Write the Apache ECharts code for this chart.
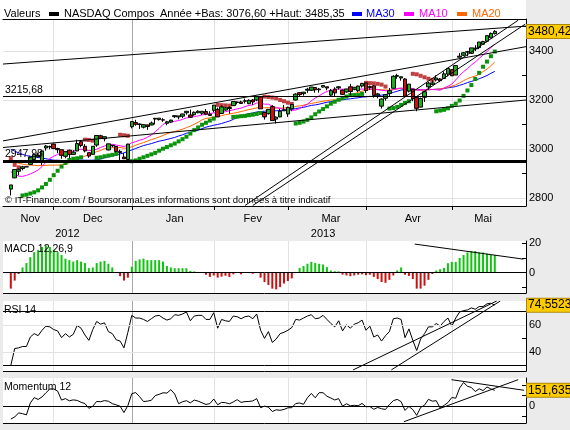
<!DOCTYPE html>
<html>
<head>
<meta charset="utf-8">
<script src="https://cdn.jsdelivr.net/npm/echarts@6/dist/echarts.min.js"></script>
<style>
html, body { margin: 0; padding: 0; background: #ebebeb; }
#chart { width: 570px; height: 430px; }
</style>
</head>
<body>
<div id="chart"></div>
<script>
// trading days on the x axis (index 0 = 13 nov 2012), data starts at index 2
var nCats = 135;
var first = 2;
var monthStart = [13, 33, 54, 73, 93, 115];
var monthLabelAt = [7, 23, 44, 64, 84, 105, 123];
var monthNames = ['Nov', 'Dec', 'Jan', 'Fev', 'Mar', 'Avr', 'Mai'];
var yearLabelAt = [16.5, 82];
var yearNames = ['2012', '2013'];

var open = [2836,2882,2909,2920,2927,2937,2957,2975,2950,3004,3008,
  3020,3002,2997,2970,2995,2978,2992,3030,3011,2985,2978,3016,3054,3042,2996,3015,3010,2990,2967,2957,
  3091,3108,3100,3089,3098,3098,3125,3120,3119,3105,3110,3132,3131,3134,3148,3139,3140,3148,3146,3153,3137,
  3158,3162,3145,3159,3169,3177,3190,3192,3195,3185,3200,3200,3213,3149,3144,3173,3122,3131,3156,
  3143,3164,3200,3230,3226,3240,3240,3251,3242,3253,3254,3220,3245,3250,3240,3233,3254,3244,3238,3257,
  3270,3251,3258,3220,3175,3207,3227,3248,3297,3290,3286,3236,3244,3210,3171,3211,3254,3264,3282,3286,3288,3306,
  3324,3302,3375,3383,3396,3391,3412,3414,3428,3440,3454,3471];
var high = [2853,2917,2920,2931,2927,2967,2977,2985,2993,3016,3014,
  3022,3005,2997,2990,2997,2995,3038,3036,3020,2985,3011,3055,3058,3050,3021,3016,3013,2997,2983,3021,
  3113,3119,3104,3102,3100,3112,3127,3126,3126,3115,3119,3138,3135,3144,3154,3161,3153,3158,3155,3163,3154,
  3180,3169,3178,3172,3174,3196,3194,3197,3206,3203,3204,3214,3214,3151,3162,3179,3133,3164,3180,
  3173,3183,3228,3231,3233,3250,3253,3251,3249,3259,3254,3245,3252,3257,3243,3245,3266,3253,3259,3270,
  3270,3259,3261,3229,3206,3222,3249,3301,3307,3296,3290,3265,3245,3214,3210,3237,3274,3280,3301,3290,3317,3329,
  3326,3342,3392,3396,3401,3413,3424,3437,3442,3465,3476,3485.35];
var low = [2810,2881,2892,2913,2927,2936,2951,2964,2934,2993,2999,
  2999,2983,2960,2962,2962,2976,2991,3007,2986,2964,2977,3009,3043,3031,2994,3007,2985,2950,2960,2950,
  3084,3095,3082,3084,3078,3097,3100,3116,3111,3097,3106,3127,3121,3126,3140,3127,3136,3146,3139,3138,3137,
  3150,3131,3145,3157,3144,3176,3182,3184,3186,3183,3180,3195,3164,3120,3141,3116,3104,3130,3156,
  3131,3154,3199,3215,3218,3229,3237,3230,3230,3250,3240,3214,3213,3243,3220,3230,3220,3240,3233,3251,
  3229,3241,3210,3207,3165,3197,3215,3248,3287,3279,3216,3231,3195,3154,3170,3192,3241,3261,3276,3273,3287,3297,
  3298,3302,3374,3380,3379,3388,3400,3408,3426,3435,3453,3468];
var close = [2853,2916,2917,2927,2927,2967,2977,2968,2992,3012,3010,
  3002,2997,2974,2989,2978,2987,3022,3014,2992,2971,3011,3055,3044,3050,3021,3013,2990,2986,2960,3020,
  3112,3101,3102,3099,3092,3106,3122,3126,3118,3111,3118,3136,3135,3143,3154,3130,3150,3154,3154,3142,3142,
  3179,3131,3172,3168,3165,3194,3192,3186,3197,3199,3192,3214,3164,3131,3162,3116,3130,3154,3160,
  3170,3182,3224,3222,3232,3244,3253,3242,3245,3259,3249,3238,3229,3254,3223,3245,3235,3252,3257,3268,
  3239,3255,3219,3225,3204,3222,3238,3297,3300,3295,3216,3265,3205,3166,3206,3234,3269,3270,3290,3279,3307,3329,
  3299,3341,3379,3393,3397,3413,3409,3437,3439,3463,3472,3480.42];

var ma10 = [2907,2899,2889,2888,2892,2898,2905,2914,2928,2946,2961,
  2970,2978,2983,2989,2990,2991,2996,2999,2997,2993,2994,2999,3006,3012,3017,3019,3016,3013,3010,3015,
  3025,3030,3036,3040,3048,3057,3070,3084,3100,3109,3110,3113,3116,3121,3127,3129,3132,3135,3139,3142,3144,
  3148,3148,3151,3152,3156,3160,3164,3167,3173,3178,3180,3188,3187,3183,3183,3175,3169,3166,3162,
  3159,3158,3159,3165,3175,3183,3197,3208,3217,3227,3235,3241,3241,3245,3244,3244,3242,3243,3244,3245,
  3244,3246,3245,3242,3240,3238,3238,3242,3247,3249,3247,3248,3247,3241,3241,3242,3245,3243,3242,3240,3249,3256,
  3265,3282,3300,3316,3328,3343,3355,3370,3384,3397,3414,3428];
var ma20 = [2954,2947,2942,2938,2935,2934,2933,2932,2933,2933,2934,
  2934,2934,2935,2940,2944,2948,2955,2963,2971,2977,2982,2989,2994,3001,3003,3005,3006,3006,3003,3004,
  3009,3015,3021,3026,3032,3038,3043,3049,3055,3062,3067,3071,3076,3081,3087,3093,3101,3109,3119,3125,3127,
  3131,3132,3136,3140,3143,3146,3149,3153,3157,3161,3164,3168,3169,3168,3169,3168,3167,3167,3167,
  3169,3169,3174,3176,3179,3183,3186,3189,3192,3195,3197,3200,3200,3205,3209,3214,3220,3226,3231,3236,
  3240,3243,3243,3243,3242,3241,3240,3243,3245,3247,3246,3247,3246,3241,3240,3240,3242,3243,3244,3245,3248,3252,
  3256,3262,3270,3279,3287,3293,3298,3305,3316,3326,3340,3355];
var ma30 = [2999,2991,2984,2978,2973,2970,2968,2965,2963,2960,2957,
  2954,2954,2953,2953,2953,2953,2954,2955,2954,2954,2954,2956,2959,2964,2968,2972,2975,2980,2984,2990,
  2996,3002,3008,3014,3018,3022,3027,3032,3035,3039,3043,3047,3053,3058,3064,3068,3073,3077,3083,3089,3093,
  3097,3100,3104,3109,3114,3121,3128,3135,3141,3144,3147,3151,3153,3154,3156,3156,3156,3157,3159,
  3161,3162,3165,3168,3170,3174,3178,3180,3183,3187,3191,3193,3196,3199,3201,3203,3205,3207,3209,3212,
  3213,3215,3215,3217,3220,3222,3226,3231,3236,3241,3242,3245,3244,3242,3242,3241,3242,3243,3244,3245,3247,3250,
  3252,3255,3260,3265,3271,3276,3281,3287,3293,3300,3309,3317];

// parabolic SAR: value and side (1 = below price / green, 0 = above / red)
var sar = [2962,2935,2925,2810,2813,2818,2823,2831,2843,2857,2874,
  2893,2911,2928,2943,2955,2960,2962,2966,3038,3037,3034,2964,2966,2970,2973,2976,2980,3058,3056,3054,
  2950,2953,2960,2966,2972,2978,2984,2993,3001,3008,3015,3022,3031,3040,3050,3063,3077,3088,3099,3107,3116,
  3124,3180,3179,3178,3177,3131,3132,3134,3135,3138,3140,3143,3147,3214,3212,3210,3207,3200,3195,
  3189,3184,3104,3107,3112,3119,3129,3142,3153,3163,3174,3185,3193,3201,3208,3214,3220,3220,3220,3225,
  3270,3269,3268,3266,3263,3255,3165,3167,3172,3180,3188,3195,3307,3305,3299,3293,3287,3282,3154,3157,3160,3166,
  3176,3185,3198,3217,3239,3261,3286,3311,3336,3357,3379,3398];
var sarUp = [0,0,0,1,1,1,1,1,1,1,1,
  1,1,1,1,1,1,1,1,0,0,0,1,1,1,1,1,1,0,0,0,
  1,1,1,1,1,1,1,1,1,1,1,1,1,1,1,1,1,1,1,1,1,
  1,0,0,0,0,1,1,1,1,1,1,1,1,0,0,0,0,0,0,
  0,0,1,1,1,1,1,1,1,1,1,1,1,1,1,1,1,1,1,1,
  0,0,0,0,0,0,1,1,1,1,1,1,0,0,0,0,0,0,1,1,1,1,
  1,1,1,1,1,1,1,1,1,1,1,1];

var macd = [-11,-5.5,-1,3.5,6.5,10.5,14,15.5,17.5,18.5,17.5,
  15.5,14,12,9.5,8.5,7.5,8.5,7.5,6.5,3,3.5,6.5,7.5,8,6,3.5,0.3,-2.5,-5.5,-3.5,
  4,8,9,9.5,8.5,8.5,8.5,8.5,7.5,4.5,3.5,3,3,3,3,1.2,0.8,0.2,0.2,-1.5,-3,
  -2,-3.5,-2.8,-2.2,-3,-1.2,-0.3,-1.2,-0.3,-0.3,-0.8,-0.3,-3.5,-6.5,-8.5,-11,-11.5,-10,-7.5,
  -5.8,-4,-0.3,3.2,4.5,6,7.3,6.5,6,5.5,3.7,1.4,0.9,0.9,-1.4,-2,-2.5,-2,-1.5,-1.2,
  -1.8,-1.5,-3,-4.5,-6.5,-7,-5,-2,1.5,3.5,-1.5,-2.3,-4.5,-11,-11,-9,-5,-1,1.4,2.3,3.2,6.4,
  7.3,7.3,10,12,13.8,14.7,14.7,13.8,13.8,12.9,12,12];

var rsi = [30,42.5,43,44,44,51,53.5,52,56,59,58.5,
  56.5,55.5,50.5,53.5,51,53,59.5,57.5,52.5,48.5,56.5,62.5,60.5,61.5,55,53.5,49,48,43,54.5,
  67,65,65,64,62.5,64.5,66.5,67,65,63.5,64.5,67.5,67,68,69.5,63,66.5,67,67,64,64,
  69,57.5,64,63,62.5,66.5,66,64.5,66,66.5,64.5,68,56,50,55,47,49.5,53.5,54.5,
  56,58,64,63.5,65,66.5,67.5,64.5,65,67,64,61,58.5,63,55.5,60,57.5,60.5,61.5,63.5,
  56,59,51,52.5,48,52,55,64.5,65,64,50.5,57,48.5,41,49.5,53.5,58.5,58.5,61,59,62.5,65,
  59,65,69.5,70.5,71,72.5,71.5,73.5,73.5,75.5,76,74.5523];

var momentum = [-124,-104,-65,-72,-84,30,82,64,88,128,164,
  165,144,58,72,51,60,55,37,24,-21,-1,45,42,53,47,24,12,-1,-62,6,
  120,130,91,44,48,56,101,113,128,125,158,116,23,42,52,31,58,48,32,16,24,
  68,13,36,33,22,40,62,36,43,45,50,72,-15,0,-10,-52,-35,-40,-32,
  -16,-15,25,30,18,80,122,80,129,129,95,78,59,72,-1,23,3,8,4,26,
  -6,-4,-30,-13,-25,-32,15,52,65,43,-41,-3,-34,-89,-13,9,65,48,52,-18,7,34,
  83,76,174,227,191,179,140,167,149,184,165,151.6353];

// reference levels and drawn trend lines [x1, y1, x2, y2] (x in day index)
var level1 = 3215.68;
var level2 = 2947.98;
var trendMain = [[0, 3347, 134, 3502], [0, 3033, 134, 3418], [0, 3006, 134, 3200],
  [62, 2769, 132, 3526], [64, 2769, 133.8, 3510]];
var trendMacd = [[105.5, 19.5, 133.3, 9.2]];
var trendRsi = [[89.7, 26.7, 126.5, 77.6], [99.5, 26.7, 127.4, 77.6]];
var trendMom = [[102.7, -150, 132, 254], [114.9, 254, 133.5, 152]];

var cats = [];
for (var i = 0; i < nCats; i++) cats.push(String(i));
function pad(arr) {
  var out = [];
  for (var i = 0; i < first; i++) out.push('-');
  return out.concat(arr);
}
function fr(v, d) { return v.toFixed(d).replace('.', ','); }

var FONT = 'Liberation Sans';
var BG = '#ebebeb';
var grids = [
  {left: 3, right: 44, top: 19, height: 187},
  {left: 3, right: 44, top: 241, height: 52},
  {left: 3, right: 44, top: 301, height: 70},
  {left: 3, right: 44, top: 378, height: 45}
];
grids.forEach(function (g) { g.show = true; g.backgroundColor = '#fff'; g.borderWidth = 0; });

var splitColors = monthStart.map(function (m) { return m === 33 ? '#a8a8a8' : '#e2e2e2'; });

var xAxis = [];
var yAxis = [];
for (var g = 0; g < 4; g++) {
  xAxis.push({
    type: 'category', gridIndex: g, data: cats, boundaryGap: false,
    axisLine: {onZero: false, lineStyle: {color: '#000', width: 1}},
    axisTick: {show: g === 0, length: 4, lineStyle: {color: '#000'},
      interval: function (i) { return monthStart.indexOf(i) >= 0; }},
    axisLabel: {show: g === 0, color: '#000', fontFamily: FONT, fontSize: 11, margin: 7,
      interval: function (i) { return monthLabelAt.indexOf(i) >= 0; },
      formatter: function (v, i) { return monthNames[monthLabelAt.indexOf(i)]; }},
    splitLine: {show: true, lineStyle: {color: splitColors, width: 1},
      interval: function (i) { return monthStart.indexOf(i) >= 0; }}
  });
}
// value axes (same span) used for trend lines; the price one also carries the year row
for (var g = 0; g < 4; g++) {
  xAxis.push(g === 0 ? {
    type: 'value', gridIndex: g, min: 0, max: nCats - 1, position: 'bottom', offset: 14,
    axisLine: {show: false, onZero: false}, axisTick: {show: false}, splitLine: {show: false},
    axisLabel: {show: true, customValues: yearLabelAt, color: '#000', fontFamily: FONT, fontSize: 11,
      formatter: function (v) { return yearNames[yearLabelAt.indexOf(v)]; }}
  } : {type: 'value', gridIndex: g, min: 0, max: nCats - 1, show: false});
}
// top border of the price panel
xAxis.push({type: 'category', gridIndex: 0, data: cats, position: 'top', boundaryGap: false,
  axisLine: {onZero: false, lineStyle: {color: '#000'}}, axisTick: {show: false}, axisLabel: {show: false}, splitLine: {show: false}});

var yDefs = [
  {min: 2767, max: 3531, ticks: [2800, 2900, 3000, 3100, 3200, 3300, 3400, 3500], labels: [2800, 3000, 3200, 3400]},
  {min: -14, max: 21.6, ticks: [-10, 0, 10, 20], labels: [0, 20]},
  {min: 25.9, max: 77.6, ticks: [30, 40, 50, 60, 70], labels: [40, 60]},
  {min: -162, max: 270, ticks: [-100, 0, 100, 200], labels: [0]}
];
yDefs.forEach(function (d, g) {
  yAxis.push({
    type: 'value', gridIndex: g, position: 'right', min: d.min, max: d.max,
    axisLine: {show: true, onZero: false, lineStyle: {color: '#000'}},
    axisTick: {show: true, inside: true, length: 4, customValues: d.ticks, lineStyle: {color: '#000'}},
    axisLabel: {customValues: d.labels, color: '#000', fontFamily: FONT, fontSize: 11, margin: 3,
      formatter: function (v) { return String(v); }},
    splitLine: {show: false}
  });
});

var gridLine = {color: '#e2e2e2', width: 1, type: 'solid'};
var blackLine = {color: '#000', width: 1, type: 'solid'};
function hLines(values, style) {
  return values.map(function (v) { return {yAxis: v, lineStyle: style, label: {show: false}}; });
}
function lastLabel(val, txt) {
  return [{coord: [String(nCats - 2), val], lineStyle: {color: 'rgba(0,0,0,0)', width: 0},
    label: {show: true, position: 'end', distance: 1, formatter: txt, color: '#000', fontFamily: FONT, fontSize: 12, opacity: 1,
      backgroundColor: '#ffcc00', borderColor: '#b08800', borderWidth: 1, padding: [1, 2, 0, 1]}},
    {coord: [String(nCats - 1), val]}];
}

var series = [];
function trendSeries(list, g) {
  list.forEach(function (t) {
    series.push({type: 'line', xAxisIndex: 4 + g, yAxisIndex: g, data: [[t[0], t[1]], [t[2], t[3]]],
      symbol: 'none', silent: true, lineStyle: {color: '#000', width: 1}, z: 6});
  });
}

// price panel
var lastClose = close[close.length - 1];
var candle = pad(open.map(function (o, i) { return [o, close[i], low[i], high[i]]; }));
series.push({type: 'line', xAxisIndex: 0, yAxisIndex: 0, data: pad(ma30), symbol: 'none', lineStyle: {color: '#0000ff', width: 1}, z: 2,
  markLine: {silent: true, symbol: 'none', z: 1, data: hLines([2800, 3000, 3200, 3400], gridLine)}});
series.push({type: 'line', xAxisIndex: 0, yAxisIndex: 0, data: pad(ma20), symbol: 'none', lineStyle: {color: '#ff6600', width: 1}, z: 2});
series.push({type: 'line', xAxisIndex: 0, yAxisIndex: 0, data: pad(ma10), symbol: 'none', lineStyle: {color: '#ff00ff', width: 1}, z: 2});
series.push({type: 'scatter', xAxisIndex: 0, yAxisIndex: 0, symbol: 'rect', symbolSize: 4, z: 3,
  data: sar.map(function (v, i) {
    return {value: [i + first, v], itemStyle: {color: sarUp[i] ? '#0b930b' : '#c04040', opacity: 1}};
  })});
series.push({type: 'candlestick', xAxisIndex: 0, yAxisIndex: 0, data: candle, barWidth: 4, z: 4,
  itemStyle: {color: '#19b019', color0: '#cc1010', borderColor: '#000', borderColor0: '#000', borderWidth: 1},
  markLine: {silent: true, symbol: 'none', animation: false,
    data: [
      {yAxis: level1, lineStyle: blackLine,
        label: {show: true, position: 'insideStartTop', distance: [2, 1], formatter: fr(level1, 2), color: '#000', fontFamily: FONT, fontSize: 10.5}},
      {yAxis: level2, lineStyle: {color: '#000', width: 3, type: 'solid'},
        label: {show: true, position: 'insideStartTop', distance: [2, 2], formatter: fr(level2, 2), color: '#000', fontFamily: FONT, fontSize: 10.5}},
      lastLabel(lastClose, fr(lastClose, 2))
    ]}
});
trendSeries(trendMain, 0);

// MACD
series.push({type: 'bar', xAxisIndex: 1, yAxisIndex: 1, barWidth: 2,
  data: pad(macd.map(function (v) { return {value: v, itemStyle: {color: v >= 0 ? '#11c411' : '#cc1010'}}; })),
  markLine: {silent: true, symbol: 'none', data: hLines([0], blackLine)}});
trendSeries(trendMacd, 1);

// RSI
var lastRsi = rsi[rsi.length - 1];
series.push({type: 'line', xAxisIndex: 2, yAxisIndex: 2, data: pad(rsi), symbol: 'none', lineStyle: {color: '#000', width: 1},
  markLine: {silent: true, symbol: 'none',
    data: hLines([40, 60], gridLine).concat(hLines([70, 30], blackLine), [lastLabel(lastRsi, fr(lastRsi, 4))])}});
trendSeries(trendRsi, 2);

// Momentum
var lastMom = momentum[momentum.length - 1];
series.push({type: 'line', xAxisIndex: 3, yAxisIndex: 3, data: pad(momentum), symbol: 'none', lineStyle: {color: '#000', width: 1},
  markLine: {silent: true, symbol: 'none',
    data: hLines([0], blackLine).concat([lastLabel(lastMom, fr(lastMom, 4))])}});
trendSeries(trendMom, 3);

function txt(x, y, s, color, size) {
  return {type: 'text', left: x, top: y, z: 10, style: {text: s, fill: color || '#000', font: (size || 11) + 'px "' + FONT + '"'}};
}
function box(x, y, w, h, color, z) {
  return {type: 'rect', left: x, top: y, z: z || 10, shape: {width: w, height: h}, style: {fill: color}};
}

var chart = echarts.init(document.getElementById('chart'), null, {renderer: 'canvas'});
chart.setOption({
  animation: false,
  backgroundColor: BG,
  grid: grids,
  xAxis: xAxis,
  yAxis: yAxis,
  series: series,
  graphic: {
    elements: [
      box(0, 0, 526, 19, '#fff', 1),
      // margin strips left of the panels, kept above everything
      box(0, 20, 3, 186, '#fff', 200),
      box(0, 207, 3, 223, BG, 200),
      txt(4, 8, 'Valeurs'),
      box(49, 12, 10, 4, '#000'),
      txt(64, 8, 'NASDAQ Compos'),
      txt(160, 8, 'Année +Bas: 3076,60 +Haut: 3485,35'),
      box(352, 12, 10, 4, '#0000ff'),
      txt(366, 8, 'MA30', '#0000ff'),
      box(404, 12, 10, 4, '#ff00ff'),
      txt(419, 8, 'MA10', '#ff00ff'),
      box(457, 12, 10, 4, '#ff6600'),
      txt(472, 8, 'MA20', '#ff6600'),
      txt(5, 195, '© IT-Finance.com / BoursoramaLes informations sont données à titre indicatif', '#000', 9.5),
      txt(4, 244, 'MACD 12,26,9', '#000', 10.5),
      txt(4, 305, 'RSI 14', '#000', 10.5),
      txt(4, 382, 'Momentum 12', '#000', 10.5)
    ]
  }
});
</script>
</body>
</html>
